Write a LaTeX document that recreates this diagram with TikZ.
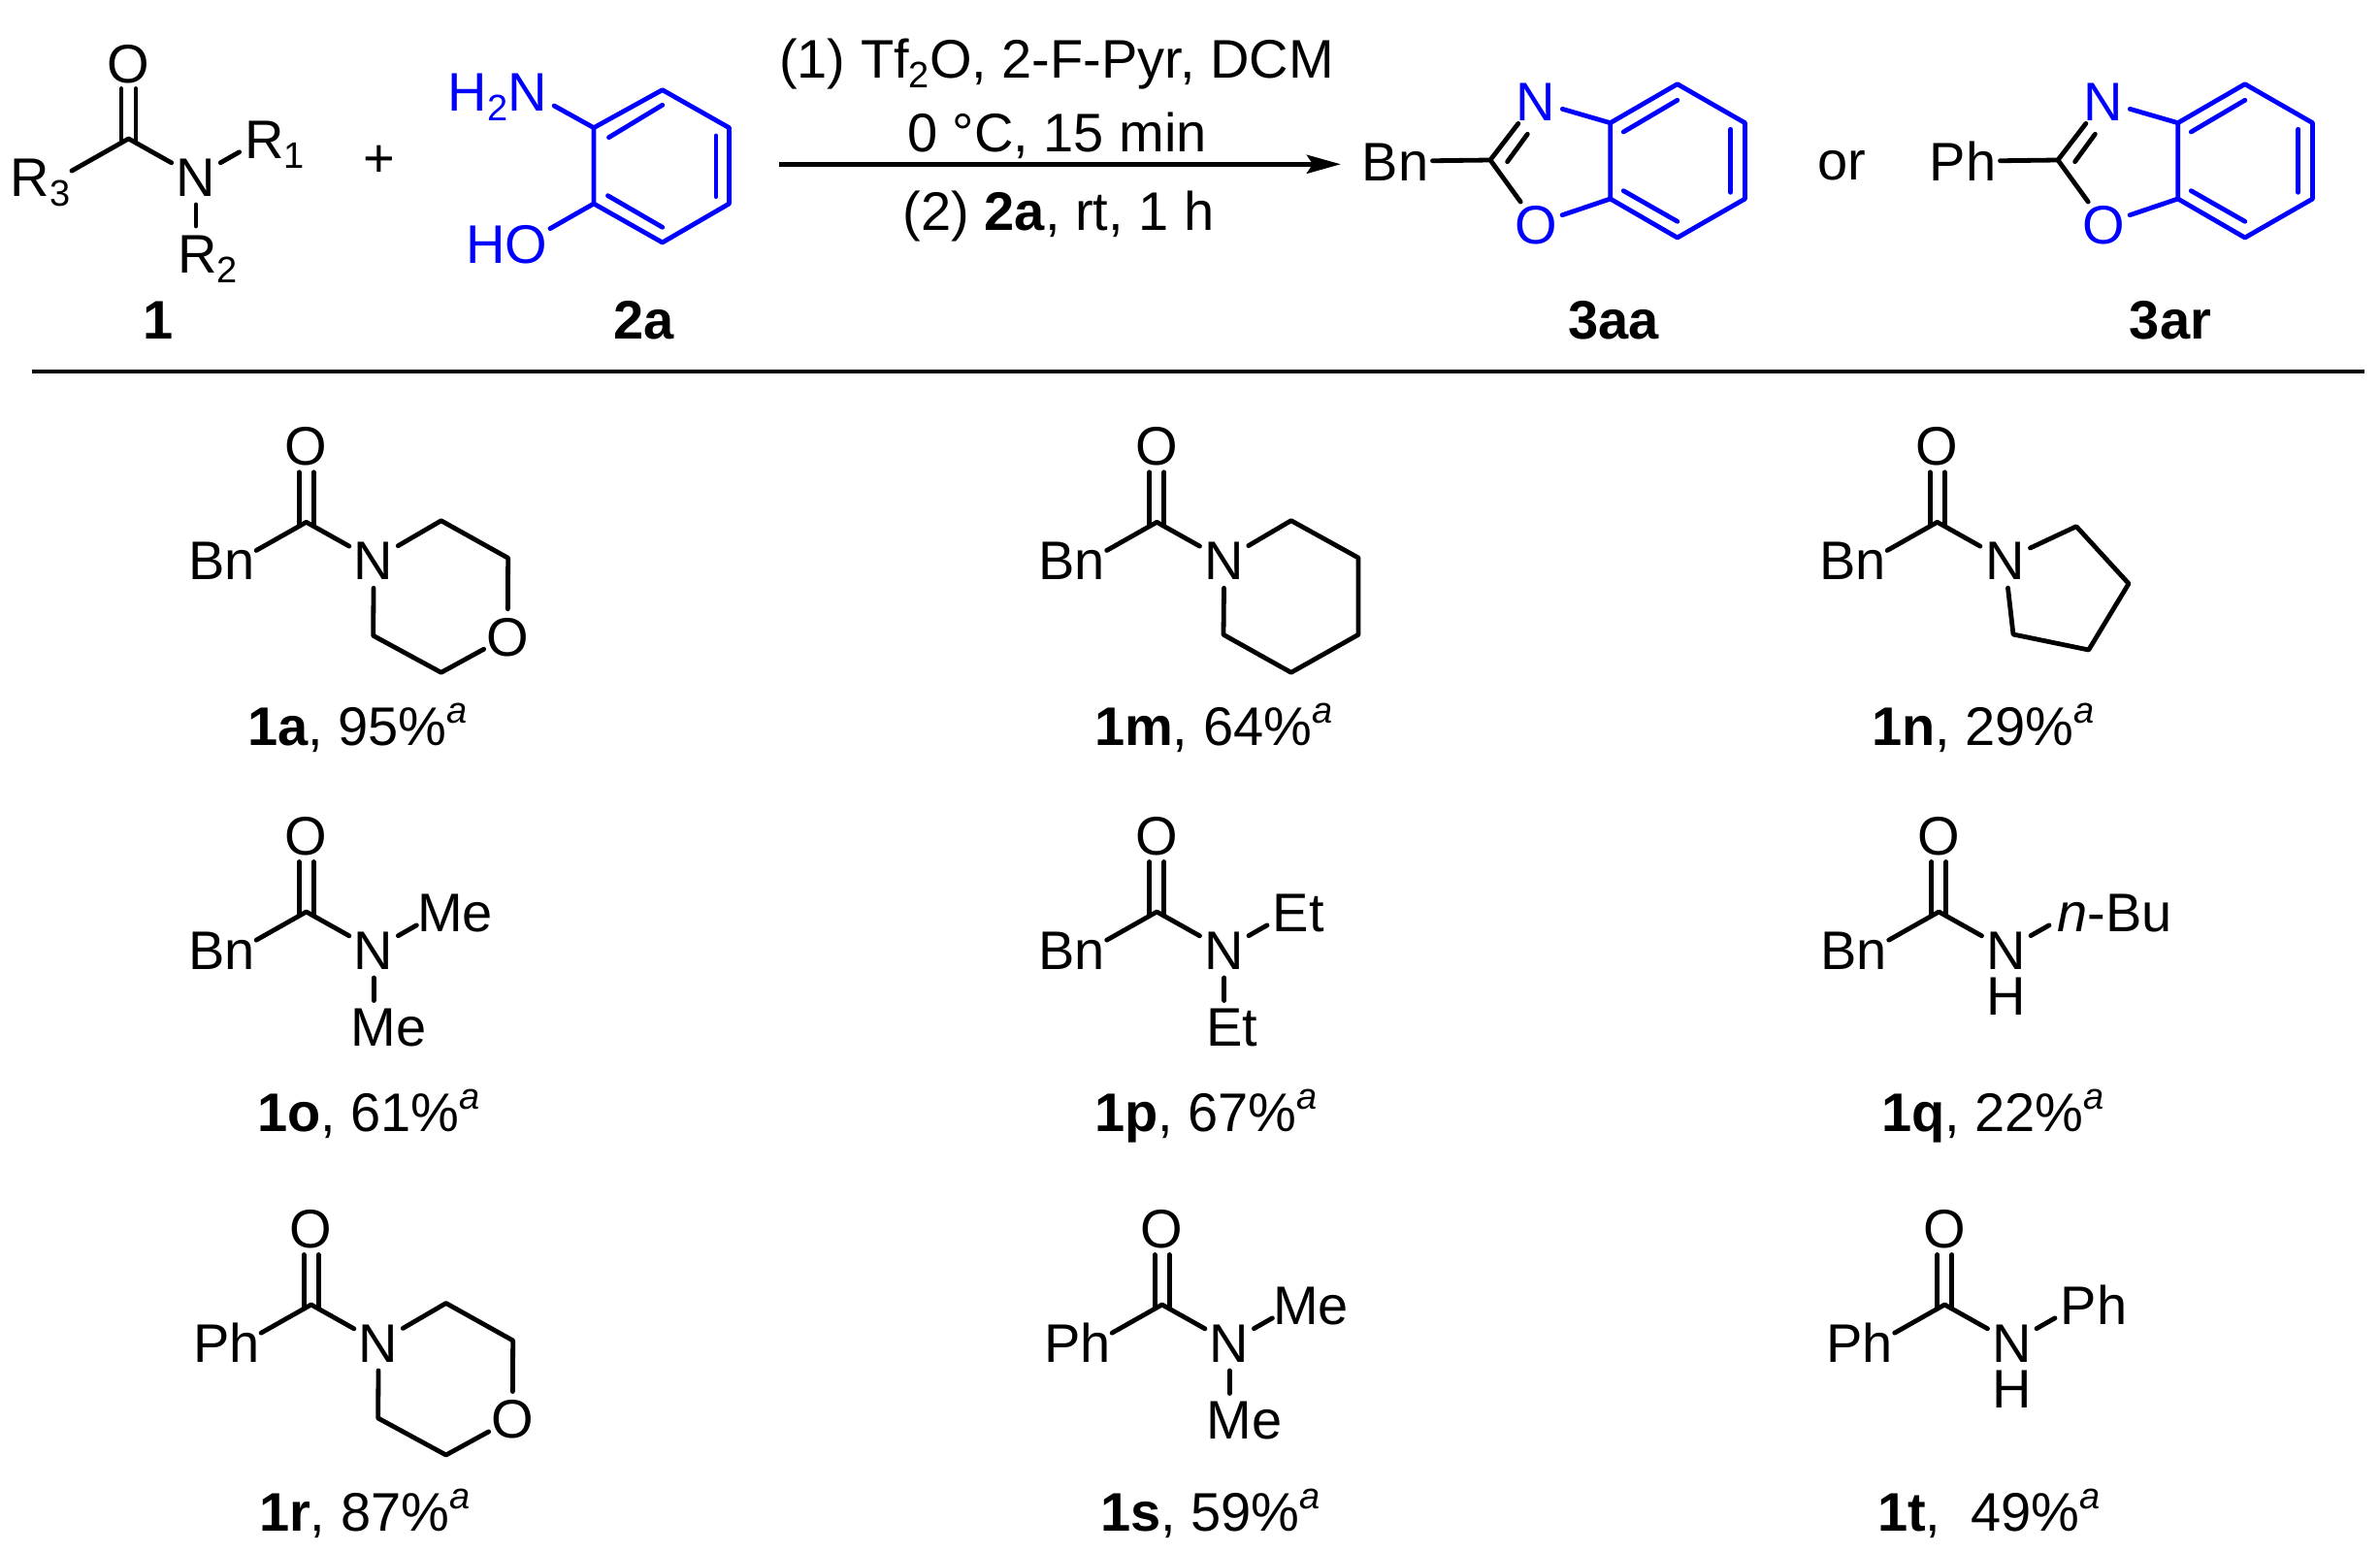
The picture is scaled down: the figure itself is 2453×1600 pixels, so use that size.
\documentclass[tikz,border=0pt]{standalone}
\usepackage{fontspec}
\setmainfont{Liberation Sans}
\usetikzlibrary{arrows.meta}
\definecolor{chemblue}{RGB}{0,0,255}
\newcommand\chemfont{\fontsize{28}{33}\selectfont}
\newcommand\lblC[1]{\makebox[0pt][c]{\raisebox{-.365em}[0pt][0pt]{#1}}}
\newcommand\lblL[2]{\makebox[0pt][l]{\kern-#1\raisebox{-.365em}[0pt][0pt]{#2}}}
\newcommand\lblR[2]{\makebox[0pt][r]{\raisebox{-.365em}[0pt][0pt]{#2}\kern-#1}}
\newcommand\sbs[1]{\raisebox{-5pt}{\fontsize{19}{22}\selectfont #1}}
\newcommand\supa{\raisebox{11.5pt}{\fontsize{19}{22}\selectfont\itshape a}}
\tikzset{
  every node/.style={font=\chemfont,inner sep=0pt,outer sep=0pt},
  atom/.style={circle,minimum size=#1*1pt},
  atom/.default=29,
  bond/.style={draw=black,line width=2.4pt,line cap=round,line join=round},
  bluebond/.style={bond,draw=chemblue},
  bluetext/.style={text=chemblue},
  capt/.style={anchor=base west},
  lab/.style={anchor=base,font=\chemfont\bfseries},
  cond/.style={anchor=base}
}
% prefix, x, y, left group, extra code
\newcommand\amide[5]{%
\begin{scope}[shift={(#2,#3)}]
  \coordinate (#1C) at (0,0);
  \coordinate (#1CL) at (-7.5,4);
  \coordinate (#1CR) at (7.5,4);
  \coordinate (#1OL) at (-7.5,-51.5);
  \coordinate (#1OR) at (7.5,-51.5);
  \node[atom=28] (#1O) at (0,-79) {\lblC{O}};
  \node[atom] (#1N) at (69.5,39) {\lblC{N}};
  \node[atom=20] (#1L) at (-69,39) {\lblR{7.9pt}{#4}};
  \draw[bond] (#1L) -- (#1C) -- (#1N);
  \draw[bond] (#1CL) -- (#1OL);
  \draw[bond] (#1CR) -- (#1OR);
  #5
\end{scope}}
\newcommand\morphring[1]{%
  \coordinate (#1r1) at (139,-1.5);
  \coordinate (#1r2) at (208,37);
  \node[atom=28] (#1rO) at (207.5,117.5) {\lblC{O}};
  \coordinate (#1r4) at (139,155);
  \coordinate (#1r5) at (69,117);
  \draw[bond] (#1N) -- (#1r1) -- (#1r2) -- (#1rO) -- (#1r4) -- (#1r5) -- (#1N);}
\begin{document}
\begin{tikzpicture}[x=0.5pt,y=-0.5pt]
\path[use as bounding box,fill=white] (0,0) rectangle (2453,1600);

% --- reagent 1
\coordinate (tC) at (132.5,143);
\coordinate (tCL) at (125,147);
\coordinate (tCR) at (140,147);
\coordinate (tOL) at (125,91.5);
\coordinate (tOR) at (140,91.5);
\node[atom=28] (tO) at (132.5,65) {\lblC{O}};
\node[atom] (tN) at (202,182) {\lblC{N}};
\node[atom=12] (tR3) at (63.5,182) {\lblR{4.5pt}{R\sbs{3}}};
\node[atom=28] (tR1) at (271,143) {\lblL{9.5pt}{R\sbs{1}}};
\node[atom=28] (tR2) at (202,261) {\lblL{9.5pt}{R\sbs{2}}};
\draw[bond] (tR3) -- (tC) -- (tN);
\draw[bond] (tCL) -- (tOL);
\draw[bond] (tCR) -- (tOR);
\draw[bond] (tN) -- (tR1);
\draw[bond] (tN) -- (tR2);
\node[lab] (l1) at (163,349.5) {1};
\node (plus) at (391,166.7) {+};

% --- reagent 2a
\coordinate (a1) at (612,131.7);
\coordinate (a2) at (682.7,92.7);
\coordinate (a3) at (751.5,131.7);
\coordinate (a4) at (751.5,210);
\coordinate (a5) at (682.7,250);
\coordinate (a6) at (612,210);
\coordinate (a1i) at (627.5,141.7);
\coordinate (a2i) at (682.7,108.3);
\coordinate (a3i) at (738,140);
\coordinate (a4i) at (738,202.7);
\coordinate (a5i) at (682.7,234.3);
\coordinate (a6i) at (626.5,201.7);
\node[atom=31,bluetext] (aN) at (544,94) {\lblR{10pt}{H\sbs{2}N}};
\node[atom=31,bluetext] (aO) at (540,251) {\lblR{12pt}{HO}};
\draw[bluebond] (a1) -- (a2) -- (a3) -- (a4) -- (a5) -- (a6) -- cycle;
\draw[bluebond] (a1i) -- (a2i);
\draw[bluebond] (a3i) -- (a4i);
\draw[bluebond] (a5i) -- (a6i);
\draw[bluebond] (aN) -- (a1);
\draw[bluebond] (aO) -- (a6);
\node[lab] (l2a) at (664,349.5) {2a};

% --- reaction arrow
\coordinate (arrS) at (803,169.3);
\coordinate (arrE) at (1382,169.3);
\draw[line width=2.5pt,-{Stealth[length=17.5pt,width=9.5pt,inset=3pt]}] (arrS) -- (arrE);
\node[cond] (c1) at (1089,80.5) {(1) Tf\sbs{2}O, 2-F-Pyr, DCM};
\node[cond] (c2) at (1089.5,156.5) {0 °C, 15 min};
\node[cond] (c3) at (1091,237) {(2) \textbf{2a}, rt, 1 h};

% --- products
\foreach \p/\dx/\grp in {x/-585/Bn, y/0/Ph}{
\begin{scope}[xshift=\dx*0.5pt]
  \coordinate (\p C) at (2121,165);
  \coordinate (\p b1) at (2244.7,126.7);
  \coordinate (\p b2) at (2313.8,86.7);
  \coordinate (\p b3) at (2383.5,126.7);
  \coordinate (\p b4) at (2383.5,205);
  \coordinate (\p b5) at (2313.8,245);
  \coordinate (\p b6) at (2244.7,205);
  \coordinate (\p b1i) at (2258.3,136);
  \coordinate (\p b2i) at (2313.8,103.3);
  \coordinate (\p b3i) at (2368.8,133.3);
  \coordinate (\p b4i) at (2368.8,198.3);
  \coordinate (\p b5i) at (2313.8,228.3);
  \coordinate (\p b6i) at (2258.3,196.7);
  \coordinate (\p Ci) at (2138.6,166.7);
  \coordinate (\p Ni) at (2159.3,138.3);
  \node[atom,bluetext] (\p N) at (2167.5,104.3) {\lblC{N}};
  \node[atom=28,bluetext] (\p O) at (2168.6,230.7) {\lblC{O}};
  \draw[bluebond] (\p b1) -- (\p b2) -- (\p b3) -- (\p b4) -- (\p b5) -- (\p b6) -- cycle;
  \draw[bluebond] (\p b1i) -- (\p b2i);
  \draw[bluebond] (\p b3i) -- (\p b4i);
  \draw[bluebond] (\p b5i) -- (\p b6i);
  \draw[bluebond] (\p N) -- (\p b1);
  \draw[bluebond] (\p O) -- (\p b6);
  \draw[bond] (\p C) -- (\p N);
  \draw[bond] (\p Ci) -- (\p Ni);
  \draw[bond] (\p C) -- (\p O);
  \node[atom=20] (\p G) at (2041.5,166) {\lblR{7.9pt}{\grp}};
  \draw[bond] (\p G) -- (\p C);
\end{scope}
}
\node[lab] (l3aa) at (1663,349.5) {3aa};
\node[lab] (l3ar) at (2237,349.5) {3ar};
\node[capt] (orw) at (1873,185.5) {or};

% --- rule
\coordinate (hrS) at (33,382.7);
\coordinate (hrE) at (2437,382.7);
\draw[line width=2.2pt] (hrS) -- (hrE);

% --- row 1
\amide{ra}{315.7}{538.3}{Bn}{\morphring{ra}}
\amide{rm}{1192.3}{538.3}{Bn}{%
  \coordinate (rm1) at (138.4,-1.6);
  \coordinate (rm2) at (207.7,36.7);
  \coordinate (rm3) at (207.7,116);
  \coordinate (rm4) at (138.4,155);
  \coordinate (rm5) at (68.7,116);
  \draw[bond] (rmN) -- (rm1) -- (rm2) -- (rm3) -- (rm4) -- (rm5) -- (rmN);}
\amide{rn}{1996.7}{538.3}{Bn}{%
  \coordinate (rn1) at (143.3,4.4);
  \coordinate (rn2) at (197.3,63.4);
  \coordinate (rn3) at (156,131.7);
  \coordinate (rn4) at (78.3,115.7);
  \draw[bond] (rnN) -- (rn1) -- (rn2) -- (rn3) -- (rn4) -- (rnN);}
\node[capt] (ca) at (255,768) {\textbf{1a}, 95\%\supa};
\node[capt] (cm) at (1128,768) {\textbf{1m}, 64\%\supa};
\node[capt] (cn) at (1929,768) {\textbf{1n}, 29\%\supa};

% --- row 2
\amide{ro}{315.7}{940}{Bn}{%
  \node[atom=28] (roA) at (138,0) {\lblL{11.7pt}{Me}};
  \node[atom=27] (roB) at (69.5,118.5) {\lblL{11.7pt}{Me}};
  \draw[bond] (roN) -- (roA);
  \draw[bond] (roN) -- (roB);}
\amide{rp}{1192.3}{940}{Bn}{%
  \node[atom=28] (rpA) at (138,0) {\lblL{9.3pt}{Et}};
  \node[atom=27] (rpB) at (69.5,118.5) {\lblL{9.3pt}{Et}};
  \draw[bond] (rpN) -- (rpA);
  \draw[bond] (rpN) -- (rpB);}
\amide{rq}{1998.3}{940}{Bn}{%
  \node[atom=28] (rqA) at (138,0) {\lblL{7.8pt}{\textit{n}-Bu}};
  \node (rqH) at (69.5,86) {\lblC{H}};
  \draw[bond] (rqN) -- (rqA);}
\node[capt] (co) at (265,1166.5) {\textbf{1o}, 61\%\supa};
\node[capt] (cp) at (1128,1166.5) {\textbf{1p}, 67\%\supa};
\node[capt] (cq) at (1939,1166.5) {\textbf{1q}, 22\%\supa};

% --- row 3
\amide{rr}{320.7}{1345}{Ph}{\morphring{rr}}
\amide{rs}{1197.7}{1345}{Ph}{%
  \node[atom=28] (rsA) at (138,0) {\lblL{11.7pt}{Me}};
  \node[atom=27] (rsB) at (69.5,118.5) {\lblL{11.7pt}{Me}};
  \draw[bond] (rsN) -- (rsA);
  \draw[bond] (rsN) -- (rsB);}
\amide{rt}{2004.3}{1345}{Ph}{%
  \node[atom=28] (rtA) at (138,0) {\lblL{9.3pt}{Ph}};
  \node (rtH) at (69.5,86) {\lblC{H}};
  \draw[bond] (rtN) -- (rtA);}
\node[capt] (cr) at (267,1578) {\textbf{1r}, 87\%\supa};
\node[capt] (cs) at (1134,1578) {\textbf{1s}, 59\%\supa};
\node[capt] (ct) at (1935,1578) {\textbf{1t},\ \ 49\%\supa};
\end{tikzpicture}
\end{document}
